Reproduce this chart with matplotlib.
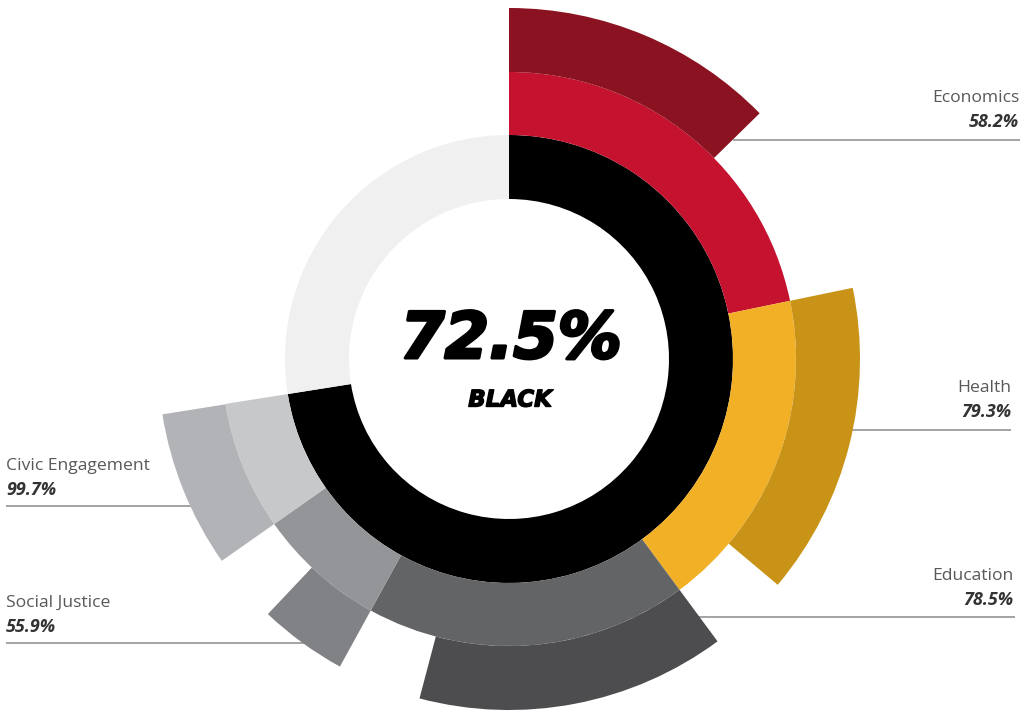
import matplotlib
matplotlib.use("Agg")
import matplotlib.pyplot as plt
from matplotlib.patches import Wedge
import matplotlib.patheffects as pe

# ---- data ----
categories = ["Economics", "Health", "Education", "Social Justice", "Civic Engagement"]
values = [58.2, 79.3, 78.5, 55.9, 99.7]          # category score (%)
weights = [30, 25, 25, 10, 10]                   # category weight (%)
overall = 72.5                                   # overall score (%)
group = "BLACK"

mid_colors = ["#c4122f", "#f2b027", "#636466", "#939598", "#c7c8ca"]
out_colors = ["#8b1220", "#c99317", "#4d4d4f", "#808285", "#b1b3b6"]

# ---- layout (pixels) ----
W, H = 1030, 713
cx, cy = 509, 359
r0, r1, r2, r3 = 160, 224, 287, 351

fig = plt.figure(figsize=(W / 100, H / 100), dpi=100)
ax = fig.add_axes([0, 0, 1, 1])
ax.set_xlim(0, W)
ax.set_ylim(H, 0)
ax.axis("off")


def clock_to_theta(a):
    # clockwise-from-north degrees -> Wedge angle (y axis inverted)
    return a - 90


# inner ring: overall score
total_deg = overall / 100 * 360
ax.add_patch(Wedge((cx, cy), r1, clock_to_theta(0), clock_to_theta(total_deg),
                   width=r1 - r0, facecolor="#000000", edgecolor="none", zorder=3))
ax.add_patch(Wedge((cx, cy), r1, clock_to_theta(total_deg), clock_to_theta(360),
                   width=r1 - r0, facecolor="#f0f0f0", edgecolor="none", zorder=3))

# middle ring: category weights; outer ring: category scores
start = 0.0
for cat, v, w, mc, oc in zip(categories, values, weights, mid_colors, out_colors):
    span = w / 100 * total_deg
    ax.add_patch(Wedge((cx, cy), r2, clock_to_theta(start), clock_to_theta(start + span),
                       width=r2 - r1, facecolor=mc, edgecolor="none", zorder=3))
    ax.add_patch(Wedge((cx, cy), r3, clock_to_theta(start), clock_to_theta(start + span * v / 100),
                       width=r3 - r2, facecolor=oc, edgecolor="none", zorder=3))
    start += span

# leader lines and labels
label_layout = {
    "Economics":        dict(x=1019, y=98,  ha="right", line=(733, 1020, 140)),
    "Health":           dict(x=1011, y=388, ha="right", line=(820, 1011, 430)),
    "Education":        dict(x=1013, y=576, ha="right", line=(690, 1015, 617)),
    "Civic Engagement": dict(x=6,    y=466, ha="left",  line=(6, 240, 506)),
    "Social Justice":   dict(x=6,    y=603, ha="left",  line=(6, 320, 643)),
}
for cat, v in zip(categories, values):
    L = label_layout[cat]
    x0, x1, yl = L["line"]
    ax.plot([x0, x1], [yl, yl], color="#8a8a8a", lw=1.1, zorder=1,
            solid_capstyle="butt")
    ax.text(L["x"], L["y"], cat, ha=L["ha"], va="center", fontsize=12.6,
            family="Open Sans", color="#58595b", zorder=5)
    ax.text(L["x"], L["y"] + 24, f"{v:.1f}%", ha=L["ha"], va="center", fontsize=13,
            family="Open Sans", fontweight="bold", style="italic", color="#333333", zorder=5)

# centre text
heavy = [pe.withStroke(linewidth=2.2, foreground="#000000")]
ax.text(cx + 2, 340, f"{overall:.1f}%", ha="center", va="center", fontsize=46,
        family="DejaVu Sans", fontweight="bold", style="italic", color="#000000",
        zorder=5, path_effects=heavy)
ax.text(cx + 1, 400, group, ha="center", va="center", fontsize=16.5,
        family="DejaVu Sans", fontweight="bold", style="italic", color="#000000",
        zorder=5, path_effects=[pe.withStroke(linewidth=1.0, foreground="#000000")])

fig.savefig("out.png", dpi=100, facecolor="white")
